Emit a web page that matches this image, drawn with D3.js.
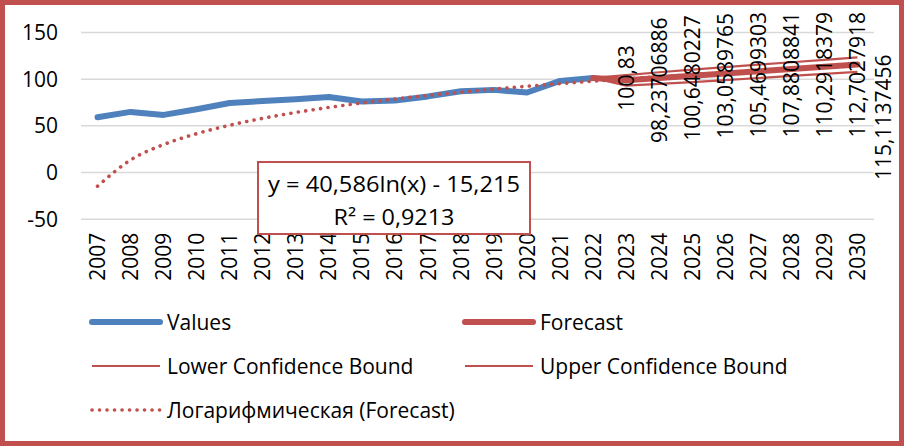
<!DOCTYPE html>
<html>
<head>
<meta charset="utf-8">
<script src="https://cdn.jsdelivr.net/npm/d3@7"></script>
<style>
  body { margin: 0; background: #fff; }
  svg text { font-family: "Open Sans", sans-serif; fill: #000; }
</style>
</head>
<body>
<svg id="chart" width="904" height="446"></svg>
<script>
var years = ["2007","2008","2009","2010","2011","2012","2013","2014","2015","2016","2017","2018",
             "2019","2020","2021","2022","2023","2024","2025","2026","2027","2028","2029","2030"];
var yTicks = [-50, 0, 50, 100, 150];

// actual values 2007..2022
var values = [58.6, 64.4, 61.2, 67.2, 74.0, 76.0, 78.0, 80.3, 75.5, 76.5, 81.0, 86.6, 88.0, 85.2, 97.6, 100.83];

// forecast 2022..2030
var forecastYears = ["2022","2023","2024","2025","2026","2027","2028","2029","2030"];
var forecast = [100.83, 98.23706886, 100.6480227, 103.0589765, 105.4699303, 107.8808841, 110.2918379, 112.7027918, 115.1137456];
var forecastLabels = ["100,83", "98,23706886", "100,6480227", "103,0589765", "105,4699303", "107,8808841", "110,2918379", "112,7027918", "115,1137456"];
var lowerBound = [100.83, 92.6, 94.4, 96.4, 98.5, 100.7, 102.9, 105.2, 107.3];
var upperBound = [100.83, 103.9, 106.9, 109.7, 112.4, 115.0, 117.6, 120.2, 122.9];

// logarithmic trendline (Forecast), 2007..2030
var trend = [-15.2, 12.9, 29.4, 41.1, 50.1, 57.5, 63.8, 69.2, 74.0, 78.2, 82.1, 85.6,
             88.9, 91.9, 94.7, 97.3, 99.8, 102.1, 104.3, 106.4, 108.4, 110.2, 112.0, 113.8];

var equationLines = ["y = 40,586ln(x) - 15,215", "R² = 0,9213"];

var legendItems = [
  { name: "Values", kind: "values" },
  { name: "Forecast", kind: "forecast" },
  { name: "Lower Confidence Bound", kind: "bound" },
  { name: "Upper Confidence Bound", kind: "bound" },
  { name: "Логарифмическая (Forecast)", kind: "trend" }
];

var blue = "#4f81bd", red = "#c0504d";

var svg = d3.select("#chart");

var x = d3.scaleBand().domain(years).range([81, 874]);
var y = d3.scaleLinear().domain([-50, 150]).range([218.7, 32]);
var cx = function(d) { return x(d) + x.bandwidth() / 2; };

// outer frame
svg.append("rect")
  .attr("x", 2.5).attr("y", 2.5)
  .attr("width", 899).attr("height", 441)
  .attr("fill", "#fff")
  .attr("stroke", red)
  .attr("stroke-width", 5);

// y axis + gridlines
var yAxis = svg.append("g")
  .attr("transform", "translate(81,0)")
  .call(d3.axisLeft(y)
    .tickValues(yTicks)
    .tickFormat(function(d) { return String(d); })
    .tickSize(-(874 - 81))
    .tickPadding(23));
yAxis.select(".domain").remove();
yAxis.selectAll("line").attr("stroke", "#d9d9d9").attr("stroke-width", 1.5);
yAxis.selectAll("text").style("font-size", "21px").attr("dy", "0.35em");

// x axis labels
var xAxis = svg.append("g")
  .attr("transform", "translate(0," + y(-50) + ")")
  .call(d3.axisBottom(x).tickSize(0));
xAxis.select(".domain").remove();
xAxis.selectAll("text")
  .style("font-size", "21px")
  .attr("transform", "rotate(-90)")
  .attr("text-anchor", "end")
  .attr("x", -14)
  .attr("y", 0)
  .attr("dy", "0.36em");

var line = d3.line()
  .x(function(d) { return cx(d[0]); })
  .y(function(d) { return y(d[1]); });

// values
svg.append("path")
  .datum(d3.zip(years.slice(0, values.length), values))
  .attr("d", line)
  .attr("fill", "none")
  .attr("stroke", blue)
  .attr("stroke-width", 6)
  .attr("stroke-linejoin", "round")
  .attr("stroke-linecap", "round");

// confidence bounds
[lowerBound, upperBound].forEach(function(b) {
  svg.append("path")
    .datum(d3.zip(forecastYears, b))
    .attr("d", line)
    .attr("fill", "none")
    .attr("stroke", red)
    .attr("stroke-width", 2.2);
});

// forecast
svg.append("path")
  .datum(d3.zip(forecastYears, forecast))
  .attr("d", line)
  .attr("fill", "none")
  .attr("stroke", red)
  .attr("stroke-width", 6)
  .attr("stroke-linejoin", "round")
  .attr("stroke-linecap", "round");

// trendline
svg.append("path")
  .datum(d3.zip(years, trend))
  .attr("d", line.curve(d3.curveMonotoneX))
  .attr("fill", "none")
  .attr("stroke", red)
  .attr("stroke-width", 3.6)
  .attr("stroke-linecap", "round")
  .attr("stroke-dasharray", "0.1 7.4");
line.curve(d3.curveLinear);

// forecast data labels (rotated, placed one step right of point)
var step = x.step();
var labels = svg.append("g").attr("class", "labels")
  .selectAll("text")
  .data(forecast)
  .enter()
  .append("text")
  .text(function(d, i) { return forecastLabels[i]; })
  .style("font-size", "21px")
  .attr("dy", "0.36em");

labels.each(function(d, i) {
  var t = d3.select(this),
      len = this.getComputedTextLength(),
      px = cx(forecastYears[i]) + step,
      py = y(d),
      last = i === forecast.length - 1;
  if (last) {
    px = Math.min(px, 883);
    t.attr("text-anchor", "end")
     .attr("transform", "translate(" + px + "," + (py - 10) + ") rotate(-90)");
  } else {
    var cy = Math.max(py, 12 + len / 2);
    t.attr("text-anchor", "middle")
     .attr("transform", "translate(" + px + "," + cy + ") rotate(-90)");
  }
});

// equation box
var eq = svg.append("g").attr("class", "equation");
eq.append("rect")
  .attr("x", 258).attr("y", 162)
  .attr("width", 272).attr("height", 72)
  .attr("fill", "#fff")
  .attr("stroke", red)
  .attr("stroke-width", 2);
eq.selectAll("text")
  .data(equationLines)
  .enter()
  .append("text")
  .attr("x", 394)
  .attr("y", function(d, i) { return 191.5 + i * 33.5; })
  .attr("text-anchor", "middle")
  .attr("textLength", function(d, i) { return i === 0 ? 252 : 121; })
  .attr("lengthAdjust", "spacingAndGlyphs")
  .style("font-size", "21.5px")
  .text(function(d) { return d; });

// legend
var legend = svg.append("g").attr("class", "legend")
  .selectAll("g")
  .data(legendItems)
  .enter()
  .append("g")
  .attr("transform", function(d, i) {
    return "translate(" + (i % 2 === 0 ? 92 : 465) + "," + (322 + Math.floor(i / 2) * 44) + ")";
  });

legend.append("line")
  .attr("x1", 0).attr("x2", 68)
  .attr("y1", 0).attr("y2", 0)
  .attr("stroke", function(d) { return d.kind === "values" ? blue : red; })
  .attr("stroke-width", function(d) {
    return d.kind === "values" || d.kind === "forecast" ? 6 : (d.kind === "trend" ? 3.6 : 2.2);
  })
  .attr("stroke-linecap", function(d) { return d.kind === "bound" ? "butt" : "round"; })
  .attr("stroke-dasharray", function(d) { return d.kind === "trend" ? "0.1 7.4" : null; });

legend.append("text")
  .attr("x", 75)
  .attr("dy", "0.36em")
  .style("font-size", "21px")
  .text(function(d) { return d.name; });
</script>
</body>
</html>
